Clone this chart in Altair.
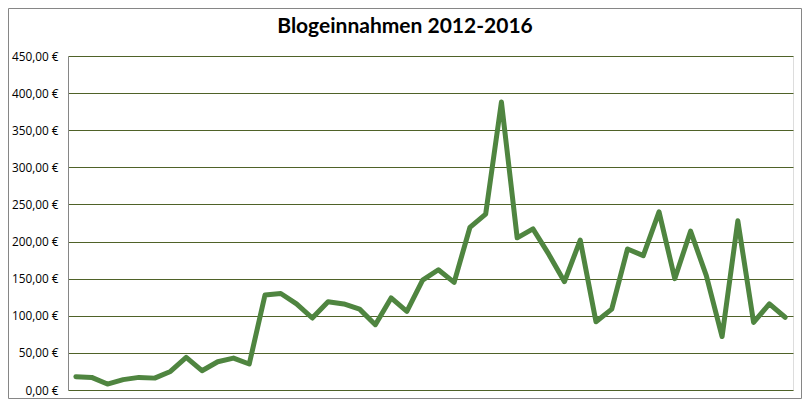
import altair as alt
import pandas as pd

monat = list(range(1, 47))
einnahmen = [18, 17, 8, 14, 17, 16, 25, 44, 26, 38,
             43, 35, 128, 130, 116, 97, 119, 116, 109, 88,
             124, 106, 148, 162, 145, 219, 237, 388, 205, 217,
             183, 146, 202, 92, 109, 190, 181, 240, 150, 214,
             154, 72, 228, 91, 116, 98]
titel = "Blogeinnahmen 2012-2016"

df = pd.DataFrame({"Monat": monat, "Einnahmen": einnahmen})

W, H = 725, 334
PL, PT, PR, PB = 60, 48, 9, 9

base = alt.Chart(df)

line = base.mark_line(color="#4F8540", strokeWidth=5, strokeJoin="round", strokeCap="round").encode(
    x=alt.X("Monat:O", axis=None, scale=alt.Scale(type="point", padding=0.5)),
    y=alt.Y("Einnahmen:Q",
            scale=alt.Scale(domain=[0, 450], nice=False),
            axis=alt.Axis(values=list(range(0, 451, 50)), title=None,
                          labelExpr="replace(format(datum.value, '.2f'), '.', ',') + ' €'",
                          labelFont="Open Sans", labelFontSize=11.8, labelColor="#000000",
                          labelPadding=10, ticks=False,
                          domain=True, domainColor="#868686", domainWidth=1,
                          grid=True, gridColor="#4F6228", gridWidth=1)),
)

title_mark = alt.Chart(pd.DataFrame({"t": [titel]})).mark_text(
    font="Lato", fontSize=21, fontWeight="bold", color="#000000",
    align="center", baseline="middle"
).encode(text="t:N", x=alt.value(337), y=alt.value(-29))

border = alt.Chart(pd.DataFrame({"t": [titel]})).mark_rect(
    fill=None, stroke="#868686", strokeWidth=1
).encode(x=alt.value(-PL + 0.5), x2=alt.value(W + PR - 0.5),
         y=alt.value(-PT + 0.5), y2=alt.value(H + PB - 0.5))

chart = alt.layer(border, line, title_mark).properties(
    width=W, height=H,
    autosize=alt.AutoSizeParams(type="none"),
    padding={"left": PL, "top": PT, "right": PR, "bottom": PB},
).configure_view(stroke=None).configure(background="white")

chart.save("out.html", embed_options={"renderer": "svg", "actions": False})
